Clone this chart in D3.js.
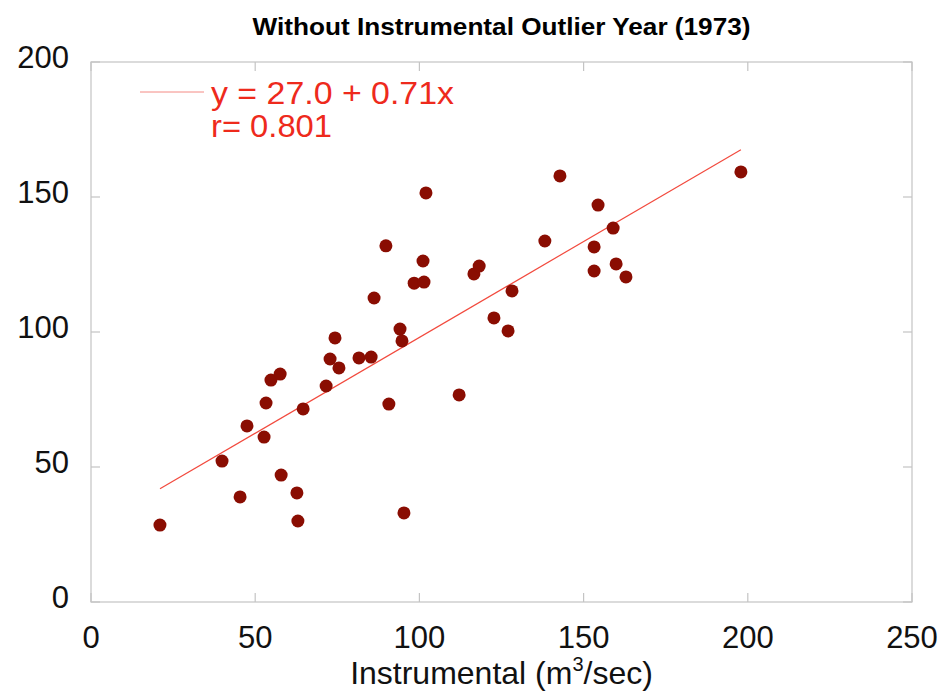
<!DOCTYPE html>
<html>
<head>
<meta charset="utf-8">
<script src="https://cdn.jsdelivr.net/npm/d3@7"></script>
<style>
  body { margin: 0; background: #fff; }
  text { font-family: "Liberation Sans", Arial, Helvetica, sans-serif; }
</style>
</head>
<body>
<svg id="chart" width="945" height="698"></svg>
<script>
// instrumental flow (m3/sec) vs reconstructed value
var instrumental = [21.0, 39.9, 45.4, 47.5, 52.7, 53.3, 54.8, 57.6, 57.9, 62.7, 63.0, 64.6,
                    71.6, 72.8, 74.3, 75.5, 81.6, 85.3, 86.2, 89.8, 90.7, 94.1, 94.7, 95.3,
                    98.4, 101.1, 101.4, 102.0, 112.1, 116.6, 118.2, 122.7, 127.0, 128.2,
                    138.2, 142.8, 153.2, 153.2, 154.4, 159.0, 159.9, 162.9, 197.9];
var reconstructed = [28.5, 52.2, 38.9, 65.2, 61.1, 73.7, 82.2, 84.4, 47.0, 40.4, 30.0, 71.5,
                     80.0, 90.0, 97.8, 86.7, 90.4, 90.7, 112.6, 131.9, 73.3, 101.1, 96.7, 33.0,
                     118.1, 126.3, 118.5, 151.5, 76.7, 121.5, 124.4, 105.2, 100.4, 115.2,
                     133.7, 157.8, 131.5, 122.6, 147.0, 138.5, 125.2, 120.4, 159.3];
var xTicks = [0, 50, 100, 150, 200, 250];
var yTicks = [0, 50, 100, 150, 200];
var fitIntercept = 27.0, fitSlope = 0.71, fitR = 0.801;

var svg = d3.select("#chart");
var pLeft = 91, pRight = 912, pTop = 62, pBottom = 602;

var x = d3.scaleLinear().domain([0, 250]).range([pLeft, pRight]);
var y = d3.scaleLinear().domain([0, 200]).range([pBottom, pTop]);

var frameColor = "#c4c4c4";

// frame
svg.append("rect")
   .attr("x", pLeft).attr("y", pTop)
   .attr("width", pRight - pLeft).attr("height", pBottom - pTop)
   .attr("fill", "none").attr("stroke", frameColor).attr("stroke-width", 1.2);

// inward ticks on all sides
var tl = 9;
xTicks.forEach(function(t){
    svg.append("line").attr("x1", x(t)).attr("x2", x(t)).attr("y1", pBottom).attr("y2", pBottom - tl)
       .attr("stroke", frameColor).attr("stroke-width", 1.2);
    svg.append("line").attr("x1", x(t)).attr("x2", x(t)).attr("y1", pTop).attr("y2", pTop + tl)
       .attr("stroke", frameColor).attr("stroke-width", 1.2);
    svg.append("text").text(t)
       .attr("x", x(t)).attr("y", pBottom + 46)
       .attr("text-anchor", "middle")
       .attr("font-size", 31).attr("fill", "#111");
});
yTicks.forEach(function(t){
    svg.append("line").attr("x1", pLeft).attr("x2", pLeft + tl).attr("y1", y(t)).attr("y2", y(t))
       .attr("stroke", frameColor).attr("stroke-width", 1.2);
    svg.append("line").attr("x1", pRight).attr("x2", pRight - tl).attr("y1", y(t)).attr("y2", y(t))
       .attr("stroke", frameColor).attr("stroke-width", 1.2);
    svg.append("text").text(t)
       .attr("x", 69).attr("y", y(t) + 6)
       .attr("text-anchor", "end")
       .attr("font-size", 31).attr("fill", "#111");
});

// regression line
var xmin = d3.min(instrumental), xmax = d3.max(instrumental);
svg.append("line")
   .attr("x1", x(xmin)).attr("y1", y(fitIntercept + fitSlope * xmin))
   .attr("x2", x(xmax)).attr("y2", y(fitIntercept + fitSlope * xmax))
   .attr("stroke", "#f24a3e").attr("stroke-width", 1.2);

// points
svg.selectAll("circle.pt")
   .data(d3.range(instrumental.length))
   .enter().append("circle")
   .attr("class", "pt")
   .attr("cx", function(i){ return x(instrumental[i]); })
   .attr("cy", function(i){ return y(reconstructed[i]); })
   .attr("r", 6.5)
   .attr("fill", "#8a0d02");

// legend
svg.append("line").attr("x1", 140).attr("x2", 204).attr("y1", 92).attr("y2", 92)
   .attr("stroke", "#f48a84").attr("stroke-width", 1);
svg.append("text").text("y = " + fitIntercept.toFixed(1) + " + " + fitSlope + "x")
   .attr("x", 211).attr("y", 104)
   .attr("font-size", 32).attr("fill", "#ee2a1c")
   .attr("textLength", 243).attr("lengthAdjust", "spacingAndGlyphs");
svg.append("text").text("r= " + fitR)
   .attr("x", 211).attr("y", 137)
   .attr("font-size", 32).attr("fill", "#ee2a1c")
   .attr("textLength", 121).attr("lengthAdjust", "spacingAndGlyphs");

// title
svg.append("text").text("Without Instrumental Outlier Year (1973)")
   .attr("x", (pLeft + pRight) / 2).attr("y", 35)
   .attr("text-anchor", "middle")
   .attr("font-size", 23).attr("font-weight", "bold").attr("fill", "#000")
   .attr("textLength", 498).attr("lengthAdjust", "spacingAndGlyphs");

// x axis title
var xt = svg.append("text")
   .attr("x", (pLeft + pRight) / 2).attr("y", 684)
   .attr("text-anchor", "middle")
   .attr("font-size", 32).attr("fill", "#111");
xt.append("tspan").text("Instrumental (m");
xt.append("tspan").text("3").attr("font-size", 20).attr("dy", -13);
xt.append("tspan").text("/sec)").attr("dy", 13);
</script>
</body>
</html>
